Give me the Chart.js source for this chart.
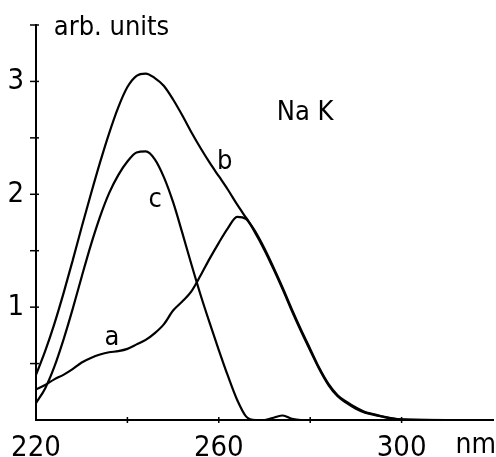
<!DOCTYPE html>
<html>
<head>
<meta charset="utf-8">
<script src="https://cdn.jsdelivr.net/npm/chart.js@4"></script>
<style>
  html, body { margin: 0; padding: 0; background: #fff; }
  #wrap { width: 496px; height: 457px; }
</style>
</head>
<body>
<div id="wrap"><canvas id="c" width="496" height="457"></canvas></div>
<script>
// ---- data ----
const wavelength = [220,222,224,226,228,230,232,234,236,238,240,242,244,246,248,250,252,254,256,258,260,262,264,266,268,270,272,274,276,278,280,282,284,286,288,290,292,294,296,298,300,310,320];
const curveA = [0.27,0.31,0.36,0.40,0.45,0.51,0.55,0.58,0.60,0.61,0.63,0.67,0.71,0.77,0.85,0.97,1.05,1.14,1.28,1.43,1.57,1.70,1.80,1.78,1.655,1.505,1.335,1.155,0.965,0.785,0.615,0.45,0.31,0.21,0.15,0.10,0.065,0.045,0.028,0.012,0.004,0,0];
const curveB = [0.40,0.61,0.85,1.12,1.41,1.71,2.00,2.28,2.54,2.77,2.95,3.05,3.07,3.03,2.96,2.84,2.70,2.55,2.41,2.28,2.16,2.04,1.91,1.79,1.67,1.52,1.35,1.17,0.98,0.80,0.63,0.46,0.32,0.22,0.16,0.11,0.07,0.05,0.03,0.015,0.005,0,0];
const curveC = [0.15,0.28,0.47,0.71,0.98,1.27,1.55,1.80,2.01,2.17,2.29,2.37,2.38,2.31,2.15,1.93,1.66,1.38,1.11,0.86,0.62,0.39,0.18,0.03,0,0,0.02,0.04,0.01,0,0,0,0,0,0,0,0,0,0,0,0,0,0];
const xTickLabels = {220: '220', 260: '260', 300: '300'};
const yTickLabels = {1: '1', 2: '2', 3: '3'};
const curveLabels = [
  {text: 'a', x: 236.6, y: 0.73},
  {text: 'b', x: 261.3, y: 2.29},
  {text: 'c', x: 246.1, y: 1.95}
];
const sampleLabel = {text: 'Na K', x: 272.7, y: 2.657};
const yUnitLabel = {text: 'arb. units', x: 223.9, y: 3.41};
const xUnitLabel = 'nm';

const FONT = "'Liberation Sans Narrow', 'DejaVu Sans Condensed', 'Liberation Sans', sans-serif";

function pts(ys) { return wavelength.map((w, i) => ({x: w, y: ys[i]})); }

const lineStyle = {
  borderColor: '#000', borderWidth: 2.2, pointRadius: 0, fill: false,
  showLine: true, cubicInterpolationMode: 'monotone'
};

const tickMarks = {
  id: 'tickMarks',
  afterDraw(chart) {
    const ctx = chart.ctx;
    const xs = chart.scales.x, ys = chart.scales.y;
    const left = chart.chartArea.left, bottom = chart.chartArea.bottom;
    ctx.save();
    ctx.strokeStyle = '#000';
    ctx.lineWidth = 1.5;
    ys.ticks.forEach(t => {
      if (t.value === 0) return;
      const py = ys.getPixelForValue(t.value);
      ctx.beginPath(); ctx.moveTo(left - 6, py); ctx.lineTo(left + 3, py); ctx.stroke();
    });
    xs.ticks.forEach(t => {
      if (t.value === 220 || t.value === 320) return;
      const px = xs.getPixelForValue(t.value);
      ctx.beginPath(); ctx.moveTo(px, bottom - 3); ctx.lineTo(px, bottom + 3); ctx.stroke();
    });
    ctx.restore();
  }
};

const textLabels = {
  id: 'textLabels',
  afterDraw(chart) {
    const ctx = chart.ctx;
    const xs = chart.scales.x, ys = chart.scales.y;
    ctx.save();
    ctx.fillStyle = '#000';
    ctx.font = '27px ' + FONT;
    ctx.textAlign = 'center';
    ctx.textBaseline = 'middle';
    curveLabels.forEach(l => ctx.fillText(l.text, xs.getPixelForValue(l.x), ys.getPixelForValue(l.y)));
    ctx.textAlign = 'left';
    ctx.textBaseline = 'alphabetic';
    ctx.fillText(sampleLabel.text, xs.getPixelForValue(sampleLabel.x), ys.getPixelForValue(sampleLabel.y));
    ctx.fillText(yUnitLabel.text, xs.getPixelForValue(yUnitLabel.x), ys.getPixelForValue(yUnitLabel.y));
    ctx.textAlign = 'right';
    ctx.font = '28px ' + FONT;
    ctx.fillText(xUnitLabel, chart.width, chart.chartArea.bottom + 33);
    ctx.restore();
  }
};

new Chart(document.getElementById('c'), {
  type: 'scatter',
  data: {
    datasets: [
      Object.assign({label: 'a', data: pts(curveA)}, lineStyle),
      Object.assign({label: 'b', data: pts(curveB)}, lineStyle),
      Object.assign({label: 'c', data: pts(curveC)}, lineStyle)
    ]
  },
  options: {
    responsive: false,
    animation: false,
    events: [],
    layout: { padding: { top: 25, right: 1, left: 0, bottom: 0 } },
    plugins: { legend: { display: false }, tooltip: { enabled: false } },
    scales: {
      x: {
        type: 'linear', min: 220, max: 320,
        grid: { display: false },
        border: { display: true, color: '#000', width: 2 },
        ticks: {
          stepSize: 20, autoSkip: false, maxRotation: 0, padding: 3,
          color: '#000', font: { family: FONT, size: 29 },
          callback: v => xTickLabels[v] || ''
        },
        afterFit: s => { s.height = 37; }
      },
      y: {
        min: 0, max: 3.5,
        grid: { display: false },
        border: { display: true, color: '#000', width: 2 },
        ticks: {
          stepSize: 0.5, autoSkip: false, padding: 4,
          color: '#000', font: { family: FONT, size: 29 },
          callback: v => yTickLabels[v] || ''
        },
        afterFit: s => { s.width = 36; }
      }
    }
  },
  plugins: [tickMarks, textLabels]
});
</script>
</body>
</html>
